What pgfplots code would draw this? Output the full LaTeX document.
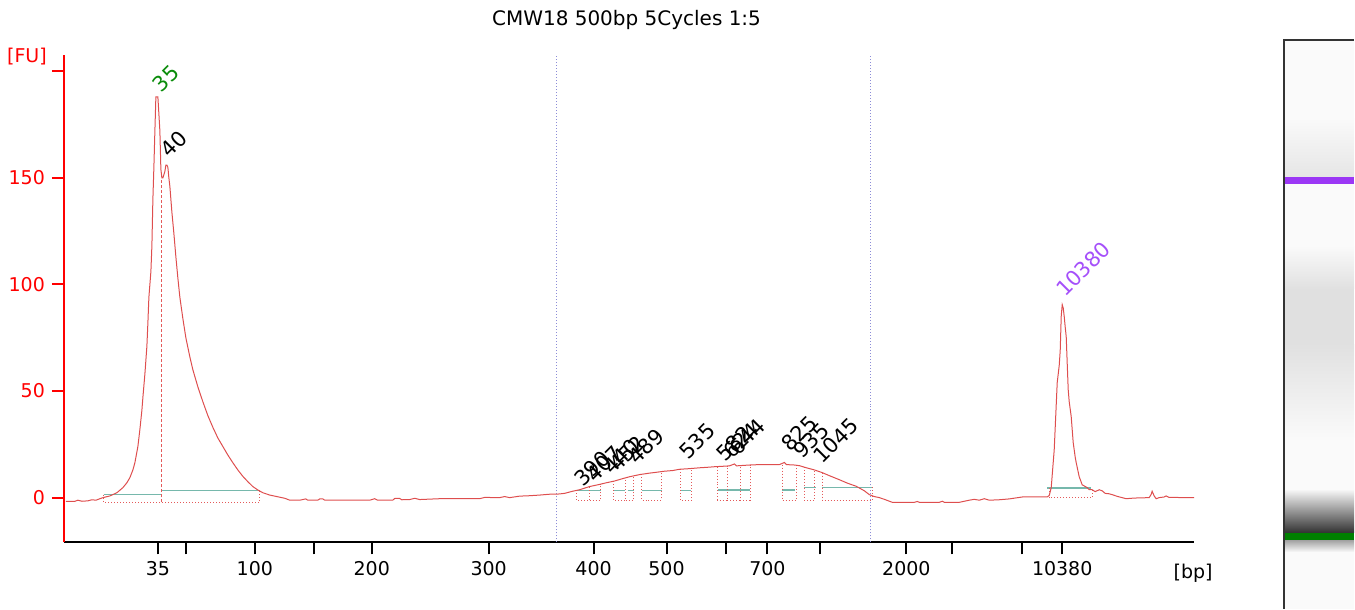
\documentclass[border=0pt]{standalone}
\usepackage{pgfplots}
\pgfplotsset{compat=1.18}
\usepackage{fontspec}
\setmainfont{DejaVu Sans}
\definecolor{curve}{RGB}{222,78,78}
\definecolor{basel}{RGB}{118,184,172}
\definecolor{bluedot}{RGB}{140,140,215}
\definecolor{winred}{RGB}{228,90,90}
\definecolor{annpurple}{RGB}{165,80,250}
\definecolor{gelpurple}{RGB}{155,55,245}
\definecolor{annGreen}{RGB}{10,140,10}
\begin{document}
\begin{tikzpicture}
\begin{axis}[
 scale only axis, width=565.5pt, height=243.9pt,
 xmin=64, xmax=1195, ymin=-21, ymax=207.66,
 axis lines*=left, clip=false,
 x axis line style={black,line width=1pt},
 y axis line style={red,line width=1pt},
 xtick={158,186,255,314,372,489,594,667,727,768,821,907,953,1023,1063},
 xticklabels={35,,100,,200,300,400,500,,700,,2000,,,10380},
 ytick={0,50,100,150,200},
 yticklabels={0,50,100,150,},
 tick align=outside, major tick length=6pt,
 xtick style={black,line width=1pt},
 ytick style={red,line width=1pt},
 yticklabel style={red, font=\fontsize{9.5}{11}\selectfont},
 xticklabel style={black, font=\fontsize{9.5}{11}\selectfont},
 /pgf/number format/assume math mode=true,
]
% invisible frame for bounding box
\path (axis cs:0,-52.03) rectangle (axis cs:1355,233.44);

% gel lane
\fill[white!98!black] (axis cs:1286,214.2) rectangle (axis cs:1355,-52.03);
\shade[top color=white!98!black, bottom color=white!90!black] (axis cs:1286,178) rectangle (axis cs:1355,150.2);
\fill[gelpurple] (axis cs:1286,150.2) rectangle (axis cs:1355,147.0);
\shade[top color=white!98!black, bottom color=white!88!black] (axis cs:1286,118) rectangle (axis cs:1355,98);
\fill[white!88!black] (axis cs:1286,98) rectangle (axis cs:1355,72);
\shade[top color=white!88!black, bottom color=white!98!black] (axis cs:1286,72) rectangle (axis cs:1355,28);
\shade[top color=white!98!black, bottom color=black!80] (axis cs:1286,4) rectangle (axis cs:1355,-16.4);
\fill[green!50!black] (axis cs:1286,-16.6) rectangle (axis cs:1355,-20.2);
\shade[top color=white!65!black, bottom color=white!98!black] (axis cs:1286,-20.2) rectangle (axis cs:1355,-25.5);
\draw[line width=1pt, black!80] (axis cs:1285,-52.03) -- (axis cs:1285,214.7) -- (axis cs:1355,214.7);

% region markers
\addplot[bluedot, densely dotted, line width=0.5pt] coordinates {(557,-21) (557,207.66)};
\addplot[bluedot, densely dotted, line width=0.5pt] coordinates {(871,-21) (871,207.66)};

% baselines (teal)
\addplot[basel, line width=0.8pt] coordinates {(104,1.4) (162,1.4)};
\addplot[basel, line width=0.8pt] coordinates {(162,3.4) (260,3.4)};
\addplot[basel, line width=0.8pt] coordinates {(577,3.4) (601,3.4)};
\addplot[basel, line width=0.8pt] coordinates {(614,3.4) (625,3.4)};
\addplot[basel, line width=0.8pt] coordinates {(628,3.4) (634,3.4)};
\addplot[basel, line width=0.8pt] coordinates {(642,3.4) (662,3.4)};
\addplot[basel, line width=0.8pt] coordinates {(681,3.4) (692,3.4)};
\addplot[basel, line width=0.8pt] coordinates {(719,3.7) (751,3.7)};
\addplot[basel, line width=0.8pt] coordinates {(783,3.7) (796,3.7)};
\addplot[basel, line width=0.8pt] coordinates {(805,4.8) (817,4.8)};
\addplot[basel, line width=0.8pt] coordinates {(823,4.8) (874,4.8)};
\addplot[basel, line width=0.8pt] coordinates {(1048,4.5) (1092,4.5)};

% integration windows (red dotted)
\addplot[winred, densely dotted, line width=0.5pt] coordinates {(104,1.4) (104,-2.2) (260,-2.2) (260,3.4)};
\addplot[winred, dash pattern=on 1.5pt off 1pt, line width=0.5pt] coordinates {(162,-2.2) (162,150)};
\addplot[winred, densely dotted, line width=0.5pt] coordinates {(577,3.5) (577,-1.3) (590,-1.3) (590,5.2)};
\addplot[winred, densely dotted, line width=0.5pt] coordinates {(590,-1.3) (601,-1.3) (601,6.3)};
\addplot[winred, densely dotted, line width=0.5pt] coordinates {(614,7.7) (614,-1.3) (626,-1.3) (626,9.2)};
\addplot[winred, densely dotted, line width=0.5pt] coordinates {(626,-1.3) (634,-1.3) (634,10.2)};
\addplot[winred, densely dotted, line width=0.5pt] coordinates {(642,10.9) (642,-1.3) (662,-1.3) (662,12.1)};
\addplot[winred, densely dotted, line width=0.5pt] coordinates {(681,13.3) (681,-1.3) (692,-1.3) (692,13.7)};
\addplot[winred, densely dotted, line width=0.5pt] coordinates {(718,14.6) (718,-1.3) (728,-1.3) (728,14.8)};
\addplot[winred, densely dotted, line width=0.5pt] coordinates {(728,-1.3) (741,-1.3) (741,15)};
\addplot[winred, densely dotted, line width=0.5pt] coordinates {(741,-1.3) (751,-1.3) (751,15.3)};
\addplot[winred, densely dotted, line width=0.5pt] coordinates {(783,15.5) (783,-1.3) (797,-1.3) (797,15.2)};
\addplot[winred, densely dotted, line width=0.5pt] coordinates {(805,14.4) (805,-1.3) (815,-1.3) (815,13)};
\addplot[winred, densely dotted, line width=0.5pt] coordinates {(823,11.7) (823,-1.3) (873,-1.3) (873,4.8)};
\addplot[winred, densely dotted, line width=0.5pt] coordinates {(1050,4.5) (1050,-0.1) (1093,-0.1) (1093,4.5)};

% electropherogram trace
\addplot[curve, line width=0.5pt] coordinates {
(66,-1.7) (75,-1.7) (78,-1.2) (82,-1.7) (88,-1.5) (92,-1.0) (96,-1.2) (100,-0.5) (103,0) (110,0.8)
(117,2.3) (123,4.7) (127,7) (130,9.4) (133,13) (135,16.4) (138,24) (140,32) (142,41) (143,47)
(145,58) (147,71) (148,82) (149,94) (151,106) (152,118) (153,140) (154,155) (155,172) (156,188)
(157,188) (158,188) (159,180) (160,172) (161,154) (162,150) (163,150) (165,153) (166,156) (167,156)
(168,155) (169,150) (170,146) (172,134) (174,124) (176,113) (178,103) (180,94) (183,84) (186,75)
(190,66) (193,60) (198,52) (203,45) (208,38.5) (213,33) (218,28) (223,24) (228,20)
(233,16.4) (238,13) (243,10) (248,7.5) (253,5.2) (258,3.6) (263,2.3) (270,1.2) (277,0.5) (285,-0.3)
(290,-1.2) (300,-1.2) (306,-0.6) (308,-1.2) (318,-1.2) (320,-0.6) (323,-0.6) (325,-1.2) (340,-1.2) (370,-1.2)
(375,-0.5) (378,-1.2) (393,-1.2) (395,-0.4) (400,-0.4) (402,-1) (410,-0.9) (415,-0.3) (420,-0.9) (440,-0.5)
(480,-0.5) (485,0.1) (500,0) (505,0.5) (510,0) (520,0.7) (530,0.9) (540,1.2) (550,1.6) (557,1.6)
(565,2.0) (573,3) (580,3.7) (590,5.2) (600,6.2) (607,7) (615,7.8) (623,8.9) (630,9.8) (640,10.8)
(650,11.5) (657,11.9) (665,12.4) (673,12.7) (680,13.3) (690,13.6) (700,14) (707,14.2) (715,14.5) (723,14.7)
(730,14.9) (735,15.8) (737,14.9) (740,15) (750,15.3) (760,15.5) (770,15.5) (780,15.5) (785,16.5) (787,15.5)
(795,15.3) (800,15) (807,14) (815,13) (823,11.7) (830,10.3) (840,8.4) (848,6.8) (857,5.3) (865,3.2)
(870,1.4) (875,0.5) (880,0) (885,-0.8) (893,-2.2) (900,-2.2) (915,-2.2) (918,-1.8) (920,-2.2) (940,-2.2)
(943,-1.7) (945,-2.2) (960,-2.2) (970,-1.2) (975,-0.8) (980,-1.2) (985,-0.5) (990,-1.2) (1000,-1) (1010,-0.6)
(1023,0.3) (1030,0.3) (1048,0.3) (1050,1) (1052,4.7) (1055,22.5) (1058,54) (1060,62) (1061,69) (1062,85)
(1063,90.5) (1064,89) (1065,85) (1066,80) (1067,75.5) (1069,50.6) (1070,45) (1072,38) (1074,25.8) (1076,19)
(1077,16.4) (1080,9.8) (1083,6) (1085,5.5) (1088,4.7) (1090,3.7) (1093,3.7) (1096,2.8) (1100,3.7) (1103,3.2)
(1106,2) (1110,1.8) (1113,1.4) (1118,0.6) (1127,-0.5) (1135,-0.2) (1150,0) (1152,1.5) (1153,3) (1155,0.8)
(1157,-0.5) (1160,0) (1165,0.3) (1167,0.8) (1170,0.1) (1195,0)
};

% texts
\node[font=\fontsize{10}{12}\selectfont] at (axis cs:627,224.1) {CMW18 500bp 5Cycles 1:5};
\node[red, font=\fontsize{9.5}{11}\selectfont] at (axis cs:27,206.7) {[FU]};
\node[font=\fontsize{9.5}{11}\selectfont] at (axis cs:1194,-35.6) {[bp]};

\tikzset{pk/.style={rotate=45, anchor=south west, inner sep=0pt, font=\fontsize{10.5}{12}\selectfont}}
\node[pk, annGreen] at (axis cs:162,189.3) {35};
\node[pk, black] at (axis cs:170,158.6) {40};
\node[pk, annpurple] at (axis cs:1066,93.3) {10380};
\node[pk] at (axis cs:584,4.2) {390};
\node[pk] at (axis cs:596,6.5) {407};
\node[pk] at (axis cs:613,9.8) {440};
\node[pk] at (axis cs:619,11.2) {452};
\node[pk] at (axis cs:638,14.5) {489};
\node[pk] at (axis cs:689,16.9) {535};
\node[pk] at (axis cs:726,15.9) {582};
\node[pk] at (axis cs:733,17.3) {624};
\node[pk] at (axis cs:739,19.1) {644};
\node[pk] at (axis cs:791,20.6) {825};
\node[pk] at (axis cs:803,17.3) {935};
\node[pk] at (axis cs:823,15.0) {1045};
\end{axis}
\end{tikzpicture}
\end{document}
